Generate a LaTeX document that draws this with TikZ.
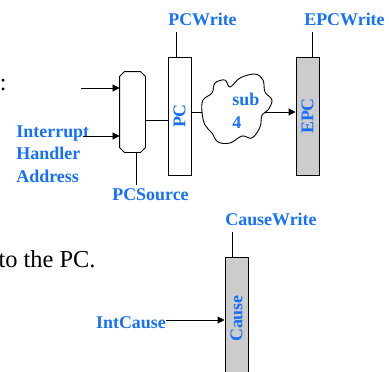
\documentclass[tikz,border=0pt]{standalone}
\usepackage{fontspec}
\setmainfont{Liberation Serif}
\usetikzlibrary{arrows.meta}
\definecolor{sigblue}{RGB}{22,112,255}
\definecolor{reggray}{RGB}{204,204,204}

\begin{document}
\begin{tikzpicture}[x=1bp, y=-1bp, line width=0.9bp,
    sig/.style={text=sigblue, inner sep=0pt, font=\fontsize{18}{22.5}\selectfont\bfseries},
    reg/.style={draw, minimum width=23bp, inner sep=0pt},
    arr/.style={-{Triangle[length=7bp,width=7bp]}}]
    \useasboundingbox (0,0) rectangle (389,372);
    \clip (0,0) rectangle (389,372);

    % leftover text of the slide
    \node[anchor=base east, inner sep=0pt, font=\fontsize{24}{28}\selectfont] (colon) at (7,90) {:};
    \node[anchor=base east, inner sep=0pt, font=\fontsize{24.5}{28}\selectfont] (topc) at (96,267) {to the PC.};

    % registers
    \node[reg, fill=white, minimum height=118bp] (pc) at (179.5,116) {};
    \node[sig, rotate=90] (pclabel) at (pc) {PC};
    \node[reg, fill=reggray, minimum height=118bp] (epc) at (307.5,116) {};
    \node[sig, rotate=90] (epclabel) at (epc) {EPC};
    \node[reg, fill=reggray, minimum height=123bp] (cause) at (236.5,318.5) {};
    \node[sig, rotate=90] (causelabel) at (cause) {Cause};

    % mux
    \node[minimum width=25bp, minimum height=80bp, inner sep=0pt] (mux) at (132.5,112) {};
    \draw ([xshift=5bp]mux.north west) -- ([xshift=-5bp]mux.north east)
        -- ([yshift=-5bp]mux.north east) -- ([yshift=5bp]mux.south east)
        -- ([xshift=-5bp]mux.south east) -- ([xshift=5bp]mux.south west)
        -- ([yshift=5bp]mux.south west) -- ([yshift=-5bp]mux.north west) -- cycle;

    % sub 4 blob
    \draw plot[smooth cycle, tension=0.6] coordinates {(215,83) (225,80) (230,87) (240,78)
        (255,74) (263,80) (265,92) (272,100) (268,110) (262,115) (260,127) (252,138)
        (242,136) (230,143) (218,142) (212,133) (205,125) (202,112) (203,100) (212,93)};
    \node[sig, align=left, anchor=north west] (sub) at (232,93) {sub\\4};
    \coordinate (cloudW) at (202,112);
    \coordinate (cloudE) at (265,112);

    % labels
    \node[sig] (pcwrite) at (202.5,19) {PCWrite};
    \node[sig] (epcwrite) at (344.5,19) {EPCWrite};
    \node[sig] (pcsource) at (150.5,194.5) {PCSource};
    \node[sig] (causewrite) at (271,219) {CauseWrite};
    \node[sig] (intcause) at (131,322.5) {IntCause};
    \node[sig, align=left, anchor=north west] (handler) at (16,125) {Interrupt\\Handler\\Address};

    % datapath
    \coordinate (in1) at (81,88);
    \coordinate (in2) at (83,136);
    \draw[arr] (in1) -- (mux.west |- in1);
    \draw[arr] (in2) -- (mux.west |- in2);
    \draw (mux.east |- 0,120) -- (pc.west |- 0,120);
    \draw (pc.east |- cloudW) -- (cloudW);
    \draw[arr] (cloudE) -- (epc.west |- cloudE);
    \draw[arr] (intcause.east |- 0,320) -- (cause.west |- 0,320);

    % control lines
    \draw ([xshift=3.5bp]mux.south) -- ++(0,33);
    \draw ([xshift=-3.5bp]pc.north) -- ++(0,-25);
    \draw ([xshift=5bp]epc.north) -- ++(0,-25);
    \draw ([xshift=-4.5bp]cause.north) -- ++(0,-25);
\end{tikzpicture}
\end{document}
